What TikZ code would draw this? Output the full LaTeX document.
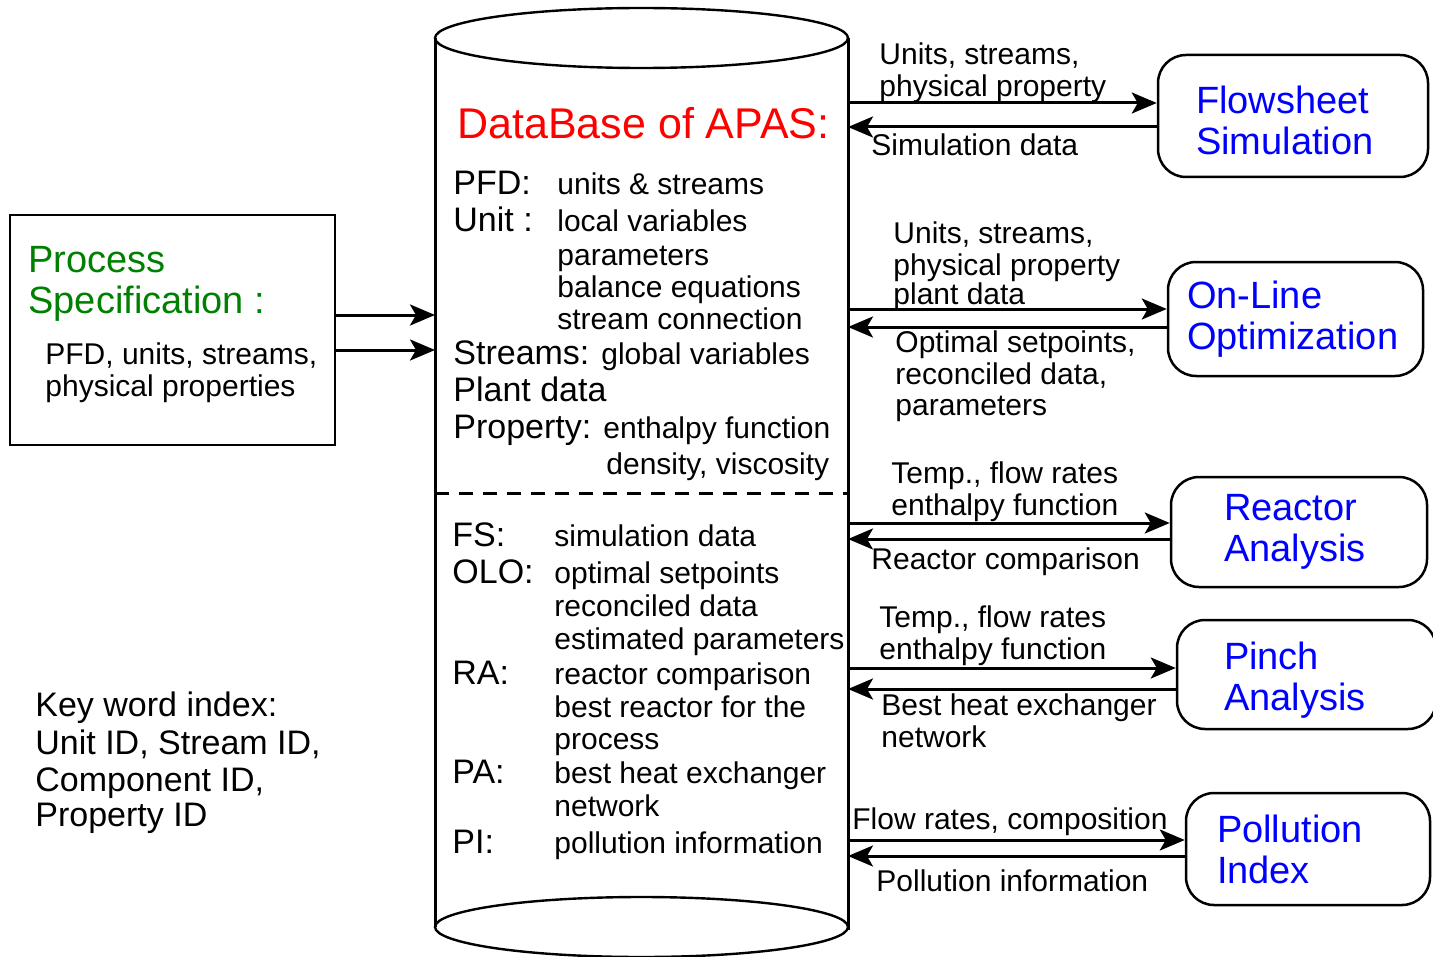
\documentclass[tikz,border=0pt]{standalone}
\usepackage{fontspec}
\setmainfont{Liberation Sans}
\usetikzlibrary{arrows.meta}
\usetikzlibrary{calc}
\definecolor{specgreen}{RGB}{0,128,0}

\begin{document}
\begin{tikzpicture}[x=0.5pt, y=-0.5pt,
	arr/.style={line width=1.5pt, -{Stealth[length=12.5pt, width=10.5pt, inset=3pt]}},
	txt/.style={anchor=base west, inner sep=0pt, font=\fontsize{15}{16}\selectfont},
	big/.style={anchor=base west, inner sep=0pt, font=\fontsize{17}{18}\selectfont},
	head/.style={anchor=base west, inner sep=0pt, font=\fontsize{19}{20}\selectfont},
	tool/.style={draw, line width=1.25pt, rounded corners=14pt, text=blue, align=left, inner ysep=0pt, font=\fontsize{19}{20.5}\selectfont}]
	\useasboundingbox (0,0) rectangle (1433,957);
	
	% database cylinder
	\draw[line width=1.5pt] (435,38) -- (435,927) (848,38) -- (848,930);
	\draw[line width=1.2pt] (641.5,38) ellipse [x radius=206.5, y radius=30];
	\draw[line width=1.2pt] (641.5,927) ellipse [x radius=206.5, y radius=30];
	\draw[line width=1.5pt, dash pattern=on 7pt off 5pt] (435,493) -- (850,493);
	\coordinate (dbW) at (435,0);
	\coordinate (dbE) at (848,0);
	
	\node[head, text=red, font=\fontsize{21.5}{22}\selectfont] (dbtitle) at (457,139) {DataBase of APAS:};
	\foreach \y/\t [count=\i] in {195/PFD:, 231.5/Unit :, 364.5/Streams:, 401.5/Plant data, 438.5/Property:}
		\node[big] (dblab\i) at (453,\y) {\t};
	\foreach \x/\y/\t [count=\i] in {557/195/units \& streams, 557/231.5/local variables, 557/265/parameters, 557/297/balance equations, 557/329/stream connection, 601/364.5/global variables, 603/438.5/enthalpy function, 606/474.5/{density, viscosity}}
		\node[txt] (dbval\i) at (\x,\y) {\t};
	\foreach \y/\t [count=\i] in {546/FS:, 583/OLO:, 684/RA:, 783/PA:, 853/PI:}
		\node[big] (reslab\i) at (452,\y) {\t};
	\foreach \y/\t [count=\i] in {546/simulation data, 583/optimal setpoints, 616/reconciled data, 649/estimated parameters, 684/reactor comparison, 717/best reactor for the, 749/process, 783/best heat exchanger, 816/network, 853/pollution information}
		\node[txt] (resval\i) at (554,\y) {\t};
	
	% process specification
	\node[draw, line width=1.25pt, minimum width=162.5pt, minimum height=115pt] (spec) at (172.5,330) {};
	\node[head, text=specgreen] (spec1) at (28,272) {Process};
	\node[head, text=specgreen] (spec2) at (28,313) {Specification :};
	\node[txt] (spec3) at (45,364) {PFD, units, streams,};
	\node[txt] (spec4) at (45,396) {physical properties};
	\coordinate (specA) at ([yshift=7.5pt]spec.east);
	\coordinate (specB) at ([yshift=-10pt]spec.east);
	\draw[arr] (specA) -- (specA -| dbW);
	\draw[arr] (specB) -- (specB -| dbW);
	
	% key words
	\foreach \y/\t [count=\i] in {716/Key word index:, 754/{Unit ID, Stream ID,}, 791/{Component ID,}, 826/Property ID}
		\node[big] (key\i) at (35,\y) {\t};
	
	% application programs
	\node[tool, minimum width=135pt, minimum height=61pt, inner xsep=19pt, text width=97pt] (fs) at (1293,116) {\rule{0pt}{18.5pt}Flowsheet\\Simulation};
	\node[tool, minimum width=127.5pt, minimum height=57pt, inner xsep=9.5pt, text width=108.5pt] (olo) at (1295.5,319) {On-Line\\Optimization};
	\node[tool, minimum width=128pt, minimum height=55pt, inner xsep=26.5pt, text width=75pt] (ra) at (1299,532) {Reactor\\Analysis};
	\node[tool, minimum width=129.5pt, minimum height=54.5pt, inner xsep=23.5pt, text width=82.5pt] (pa) at (1306.5,674.5) {\rule{0pt}{19pt}Pinch\\Analysis};
	\node[tool, minimum width=122pt, minimum height=56pt, inner xsep=15.5pt, text width=91pt] (pol) at (1308,849) {Pollution\\Index};
	
	\foreach \b/\u/\d in {fs/6.5/-5.5, olo/5/-4, ra/4.5/-3.5, pa/3.25/-7.25, pol/4.5/-3.5} {
		\coordinate (\b-in) at ([yshift=\u pt]\b.west);
		\coordinate (\b-out) at ([yshift=\d pt]\b.west);
		\draw[arr] (dbE |- \b-in) -- (\b-in);
		\draw[arr] (\b-out) -- (dbE |- \b-out);
	}
	
	\foreach \x/\y/\t [count=\i] in {879/65/{Units, streams,}, 879/97/physical property, 871/156/Simulation data, 893/243/{Units, streams,}, 893/275/physical property, 893/304/plant data, 895/352/{Optimal setpoints,}, 895/384/{reconciled data,}, 895/415/parameters, 891/483/{Temp., flow rates}, 891/515/enthalpy function, 871/569/Reactor comparison, 879/627/{Temp., flow rates}, 879/659/enthalpy function, 881/715/Best heat exchanger, 881/747/network, 852/829/{Flow rates, composition}, 876/891/Pollution information}
		\node[txt] (flow\i) at (\x,\y) {\t};
\end{tikzpicture}
\end{document}
